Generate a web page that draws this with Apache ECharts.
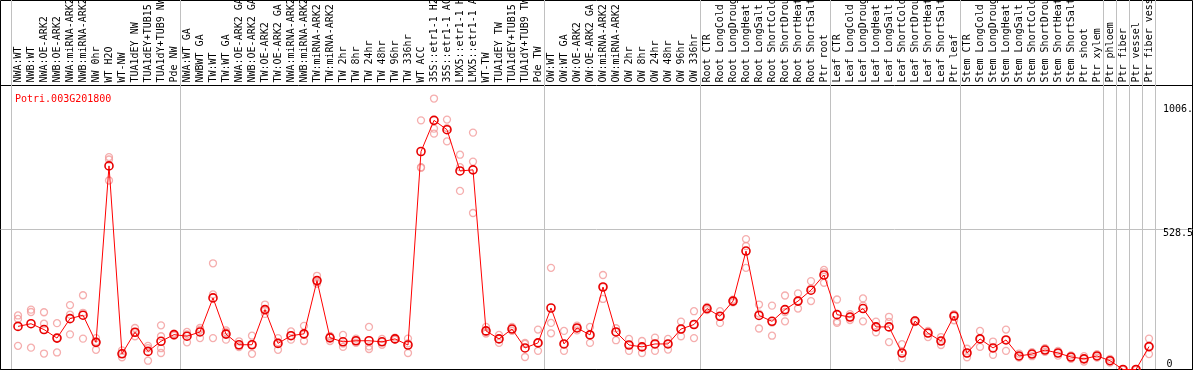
<!DOCTYPE html>
<html>
<head>
<meta charset="utf-8">
<script src="https://cdn.jsdelivr.net/npm/echarts@6/dist/echarts.min.js"></script>
<style>
html,body{margin:0;padding:0;background:#fff;}
#chart{width:1194px;height:370px;}
</style>
</head>
<body>
<div id="chart"></div>
<script>
const geneName = 'Potri.003G201800';

const categories = [
  'NWA:WT','NWB:WT','NWA:OE-ARK2','NWB:OE-ARK2','NWA:miRNA-ARK2','NWB:miRNA-ARK2','NW 0hr','WT H2O','WT-NW',
  'TUA1dEY NW','TUA1dEY+TUB15 NW','TUA1dY+TUB9 NW','Pde NW',
  'NWA:WT GA','NWBWT GA','TW:WT','TW:WT GA','NWA:OE-ARK2 GA','NWB:OE-ARK2 GA','TW:OE-ARK2','TW:OE-ARK2 GA',
  'NWA:miRNA-ARK2 GA','NWB:miRNA-ARK2 GA','TW:miRNA-ARK2','TW:miRNA-ARK2 GA',
  'TW 2hr','TW 8hr','TW 24hr','TW 48hr','TW 96hr','TW 336hr',
  'WT ACC','35S::etr1-1 H2O','35S::etr1-1 ACC','LMX5::etr1-1 H2O','LMX5::etr1-1 ACC',
  'WT-TW','TUA1dEY TW','TUA1dEY+TUB15 TW','TUA1dY+TUB9 TW','Pde TW',
  'OW:WT','OW:WT GA','OW:OE-ARK2','OW:OE-ARK2 GA','OW:miRNA-ARK2','OW:miRNA-ARK2 GA',
  'OW 2hr','OW 8hr','OW 24hr','OW 48hr','OW 96hr','OW 336hr',
  'Root CTR','Root LongCold','Root LongDrought','Root LongHeat','Root LongSalt','Root ShortCold','Root ShortDrought','Root ShortHeat','Root ShortSalt','Ptr root',
  'Leaf CTR','Leaf LongCold','Leaf LongDrought','Leaf LongHeat','Leaf LongSalt','Leaf ShortCold','Leaf ShortDrought','Leaf ShortHeat','Leaf ShortSalt','Ptr leaf',
  'Stem CTR','Stem LongCold','Stem LongDrought','Stem LongHeat','Stem LongSalt','Stem ShortCold','Stem ShortDrought','Stem ShortHeat','Stem ShortSalt','Ptr shoot',
  'Ptr xylem','Ptr phloem','Ptr fiber','Ptr vessel','Ptr fiber vessel'
];

// indices of categories that start a new group (vertical separator on their left)
const groupStarts = [0, 13, 41, 53, 63, 73, 84, 85, 86, 87];

const means = [
  162,172,150,118,191,204,102,765,59,140,68,106,131,
  125,141,269,133,93,93,225,98,127,134,334,119,
  104,108,108,104,115,92,
  819,936,901,746,750,
  145,115,152,81,100,
  231,96,156,130,310,141,
  92,85,96,96,152,169,
  229,200,257,445,203,181,225,257,298,355,
  206,197,229,160,160,62,182,137,107,201,
  62,115,81,111,51,58,73,62,47,40,
  51,33,0,0,86
];

const rep1 = [
  203,225,215,174,242,279,118,798,72,156,89,166,135,
  141,156,399,147,106,127,244,118,143,164,352,126,
  130,116,160,115,120,116,
  936,1018,939,807,890,
  160,130,160,100,150,
  382,145,165,160,355,155,
  115,107,120,115,180,219,
  235,219,262,490,244,240,278,286,332,374,
  263,208,267,180,198,95,185,145,122,208,
  78,145,105,150,60,65,80,70,53,50,
  58,40,0,0,116
];

const rep2 = [
  190,216,172,118,206,213,105,789,59,140,80,80,131,
  132,149,282,140,89,93,222,102,127,131,328,124,
  97,108,87,104,113,98,
  760,905,907,760,781,
  140,115,152,96,100,
  175,96,156,130,310,141,
  92,85,96,96,152,169,
  229,200,257,464,210,176,216,257,305,365,
  180,197,240,160,179,62,182,137,107,201,
  62,115,81,111,51,58,73,62,47,40,
  51,33,0,0,86
];

const rep3 = [
  89,82,60,64,132,116,74,710,46,125,33,62,127,
  102,118,118,112,84,59,209,74,112,107,322,107,
  85,100,77,93,112,62,
  758,886,857,671,588,
  135,100,145,47,70,
  136,70,147,100,265,110,
  70,62,70,75,125,118,
  223,175,252,382,154,127,181,229,257,326,
  175,186,181,140,103,43,178,122,92,185,
  46,85,55,70,45,50,66,52,40,30,
  45,26,0,0,58
];

// a few samples have a fourth replicate
const rep4 = categories.map(() => null);
rep4[11] = 125;

const yMax = 1067;
const yLabelValues = [528.5, 995];
const yLabelTexts = ['528.5', '1006.'];
const yZeroLabel = '0';

const mono = 'DejaVu Sans Mono';
const gridGray = '#c0c0c0';

const chart = echarts.init(document.getElementById('chart'), null, {renderer: 'canvas'});

const repStyle = {
  type: 'scatter', xAxisIndex: 1, yAxisIndex: 1,
  symbol: 'circle', symbolSize: 7,
  itemStyle: {color: 'rgba(0,0,0,0)', borderColor: '#f29a9a', borderWidth: 1.3},
  emphasis: {disabled: true}, silent: true, z: 2, clip: false
};

chart.setOption({
  animation: false,
  title: {
    text: geneName, left: 10, top: 89,
    textStyle: {color: '#ff0000', fontFamily: mono, fontSize: 10, fontWeight: 'normal'}
  },
  grid: [
    {left: 0.5, top: 0.5, right: 1.5, bottom: 0.5, show: true, borderColor: '#000', borderWidth: 1, backgroundColor: 'rgba(0,0,0,0)', outerBoundsMode: 'none'},
    {left: 11.5, right: 38.5, top: 0, bottom: 1, outerBoundsMode: 'none'},
    {left: 11.5, right: 38.5, top: 85.5, bottom: 0.5, outerBoundsMode: 'none'},
    {left: 0.5, right: 1.5, top: 85.5, bottom: 0.5, show: true, borderColor: '#000', borderWidth: 1, backgroundColor: 'rgba(0,0,0,0)', outerBoundsMode: 'none'}
  ],
  xAxis: [
    {type: 'category', gridIndex: 1, data: categories, boundaryGap: true,
     axisLine: {show: false}, axisTick: {show: false}, axisLabel: {show: false},
     splitLine: {show: true, interval: (i) => groupStarts.includes(i), lineStyle: {color: gridGray, width: 1}}},
    {type: 'category', gridIndex: 2, data: categories, boundaryGap: true, position: 'top',
     axisLine: {show: false}, axisTick: {show: false}, splitLine: {show: false},
     axisLabel: {interval: 0, rotate: 90, margin: 3, align: 'left', verticalAlign: 'middle',
       padding: [4, 0, 0, 0],
       fontFamily: mono, fontSize: 10, color: '#000', hideOverlap: false}},
    {type: 'value', gridIndex: 3, min: 0, max: 1, show: false}
  ],
  yAxis: [
    {type: 'value', gridIndex: 1, min: 0, max: 1, show: false},
    {type: 'value', gridIndex: 2, min: 0, max: yMax, position: 'right',
     axisLine: {show: false}, axisTick: {show: false}, splitLine: {show: false},
     axisLabel: {customValues: yLabelValues, verticalAlign: 'top', margin: 7.5,
       fontFamily: mono, fontSize: 10, color: '#000',
       formatter: (v) => { const k = yLabelValues.indexOf(v); return k >= 0 ? yLabelTexts[k] : ''; }}},
    {type: 'value', gridIndex: 2, min: 0, max: yMax, position: 'right',
     axisLine: {show: false}, axisTick: {show: false}, splitLine: {show: false},
     axisLabel: {customValues: [0], verticalAlign: 'bottom', margin: 11,
       fontFamily: mono, fontSize: 10, color: '#000', formatter: () => yZeroLabel}},
    {type: 'value', gridIndex: 3, min: 0, max: yMax,
     axisLine: {show: false}, axisLabel: {show: false},
     axisTick: {show: false, customValues: [528.5]},
     splitLine: {show: true, lineStyle: {color: gridGray, width: 1}}}
  ],
  series: [
    Object.assign({name: 'rep1', data: rep1}, repStyle),
    Object.assign({name: 'rep2', data: rep2}, repStyle),
    Object.assign({name: 'rep3', data: rep3}, repStyle),
    Object.assign({name: 'rep4', data: rep4}, repStyle),
    {name: 'mean', type: 'line', xAxisIndex: 1, yAxisIndex: 1, data: means,
     symbol: 'circle', symbolSize: 8, showAllSymbol: true, clip: false,
     lineStyle: {color: '#ff0000', width: 1},
     itemStyle: {color: 'rgba(0,0,0,0)', borderColor: '#e80000', borderWidth: 1.6},
     emphasis: {disabled: true}, silent: true, z: 3}
  ]
});
</script>
</body>
</html>
